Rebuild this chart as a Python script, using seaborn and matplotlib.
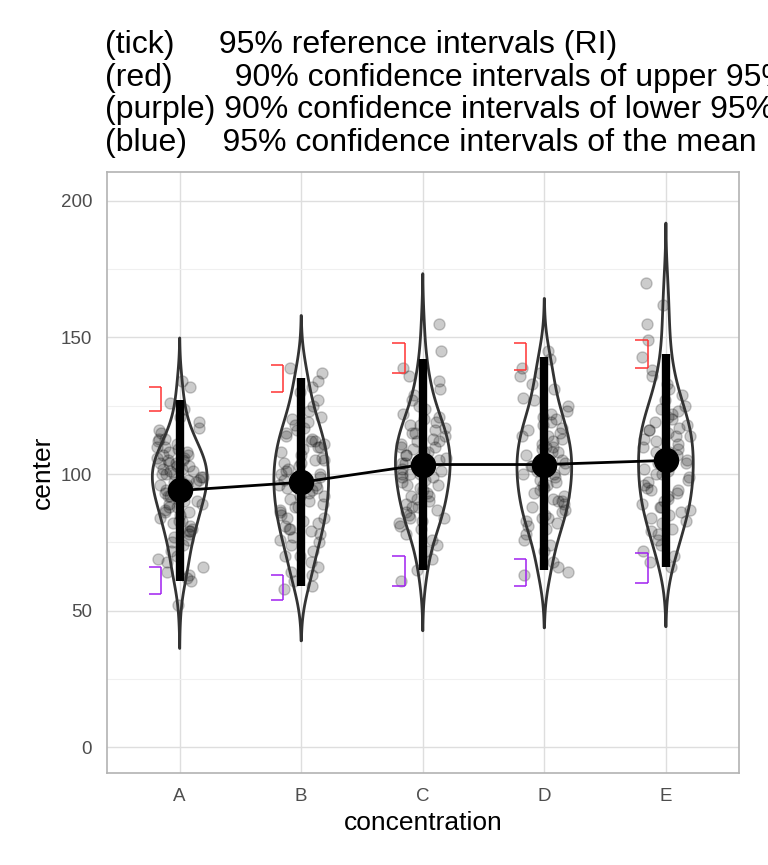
"""Violin + jitter chart of center by concentration with reference-interval markers."""

import matplotlib
matplotlib.use("Agg")
import matplotlib.pyplot as plt
import numpy as np
import pandas as pd
import seaborn as sns
from matplotlib.ticker import MultipleLocator

# === data ===
CATEGORIES = ["A", "B", "C", "D", "E"]

vals_a = [134, 132, 126, 121, 119, 117, 115, 113, 112, 111, 110, 109, 108, 108,
          107, 106, 106, 105, 105, 104, 104, 103, 103, 102, 102, 101, 101, 100,
          100, 99, 99, 98, 98, 97, 97, 96, 96, 95, 95, 94, 94, 93, 92, 92, 91,
          90, 90, 89, 88, 88, 87, 86, 85, 84, 83, 82, 81, 80, 79, 78, 77, 76, 75,
          74, 72, 70, 69, 68, 66, 64, 63, 62, 61, 52, 124, 116, 113, 110, 107,
          104, 100, 97, 93, 89, 86, 83, 79]
vals_b = [139, 137, 134, 132, 130, 127, 125, 123, 121, 119, 118, 117, 115, 114,
          113, 112, 111, 110, 109, 108, 107, 106, 105, 104, 103, 102, 101, 100,
          99, 98, 98, 97, 96, 95, 94, 93, 92, 91, 90, 89, 88, 87, 86, 85, 84, 83,
          82, 81, 80, 79, 78, 77, 76, 75, 74, 72, 70, 68, 66, 63, 61, 59, 58, 120,
          116, 110, 104, 100, 96, 92, 88, 84, 80, 95, 105, 112, 70, 64]
vals_c = [155, 145, 139, 136, 134, 131, 129, 127, 125, 124, 122, 121, 120, 119,
          118, 117, 116, 115, 114, 113, 112, 111, 110, 110, 109, 108, 107, 106,
          106, 105, 104, 103, 102, 101, 100, 100, 99, 98, 97, 96, 95, 94, 93, 92,
          91, 90, 89, 88, 87, 86, 85, 84, 83, 82, 81, 80, 78, 76, 74, 72, 69, 65,
          61, 118, 112, 108, 104, 100, 96, 92, 88, 84, 115, 107, 99]
vals_d = [145, 142, 139, 137, 136, 133, 131, 128, 127, 125, 123, 121, 120, 119,
          118, 117, 116, 115, 114, 113, 112, 111, 110, 109, 108, 107, 106, 105,
          104, 103, 103, 102, 101, 100, 99, 98, 97, 96, 95, 94, 93, 92, 91, 90,
          89, 88, 87, 86, 85, 84, 83, 82, 81, 80, 78, 76, 74, 72, 68, 66, 64, 63,
          122, 114, 108, 102, 96, 90, 84, 110, 100]
vals_e = [170, 162, 155, 149, 143, 138, 136, 133, 131, 129, 127, 125, 124, 123,
          121, 120, 119, 118, 117, 116, 115, 114, 113, 112, 111, 110, 109, 108,
          107, 106, 105, 104, 103, 102, 101, 100, 99, 98, 97, 96, 95, 94, 93, 92,
          91, 90, 89, 88, 87, 86, 85, 84, 83, 82, 80, 79, 78, 76, 74, 72, 70, 68,
          66, 122, 114, 108, 100, 94, 88, 116, 104]

means = [94, 97, 103.5, 103.5, 105]
ri_lo = [61, 59, 65, 65, 66]
ri_hi = [127, 135, 142, 143, 144]
upper_ci_lo = [123, 130, 137, 138, 139]
upper_ci_hi = [132, 140, 148, 148, 149]
lower_ci_lo = [56, 54, 59, 59, 60]
lower_ci_hi = [66, 63, 70, 69, 71]

TITLE_LINES = [
    "(tick)     95% reference intervals (RI)",
    "(red)       90% confidence intervals of upper 95% RI",
    "(purple) 90% confidence intervals of lower 95% RI",
    "(blue)    95% confidence intervals of the mean",
]

# === theme (close to ggplot theme_light) ===
sns.set_theme(style="whitegrid")
plt.rcParams["font.family"] = ["Liberation Sans", "DejaVu Sans"]

df = pd.concat(
    [pd.DataFrame({"concentration": c, "center": v})
     for c, v in zip(CATEGORIES, [vals_a, vals_b, vals_c, vals_d, vals_e])],
    ignore_index=True,
)

fig = plt.figure(figsize=(7.68, 8.65), dpi=100)
ax = fig.add_axes([0.139, 0.106, 0.823, 0.695])

np.random.seed(3)
sns.stripplot(data=df, x="concentration", y="center", order=CATEGORIES,
              jitter=0.2, color="black", alpha=0.2, size=8, linewidth=1,
              edgecolor="black", ax=ax, zorder=2)
sns.violinplot(data=df, x="concentration", y="center", order=CATEGORIES,
               fill=False, color="#333333", linewidth=2, inner=None, cut=2.3,
               density_norm="width", width=0.45, ax=ax, zorder=3)

pos = np.arange(len(CATEGORIES))
ax.vlines(pos, ri_lo, ri_hi, color="black", linewidth=6, zorder=4)

# brackets "]" left of each violin
for lo, hi, col in [(upper_ci_lo, upper_ci_hi, "#ff3333"),
                    (lower_ci_lo, lower_ci_hi, "#a020f0")]:
    ax.vlines(pos - 0.15, lo, hi, color=col, linewidth=1.1, zorder=4)
    ax.hlines(lo, pos - 0.25, pos - 0.15, color=col, linewidth=1.1, zorder=4)
    ax.hlines(hi, pos - 0.25, pos - 0.15, color=col, linewidth=1.1, zorder=4)

ax.plot(pos, means, color="black", linewidth=2, zorder=5)
ax.scatter(pos, means, s=300, color="black", zorder=6)

ax.set_xlim(-0.6, 4.6)
ax.set_ylim(-9.5, 210.5)
ax.yaxis.set_major_locator(MultipleLocator(50))
ax.yaxis.set_minor_locator(MultipleLocator(25))
ax.grid(which="major", color="#dedede", linewidth=1.0)
ax.grid(which="minor", axis="y", color="#f0f0f0", linewidth=0.8)
ax.set_axisbelow(True)
for s in ax.spines.values():
    s.set_color("#b3b3b3")
    s.set_linewidth(1.2)
ax.tick_params(axis="both", which="major", length=4.5, width=1, color="#b3b3b3",
               labelcolor="#4d4d4d", labelsize=13.5, pad=6)
ax.tick_params(axis="y", which="minor", length=0)
ax.set_xlabel("concentration", fontsize=19, color="black")
ax.set_ylabel("center", fontsize=19, color="black")
ax.xaxis.set_label_coords(0.5, -0.062)
ax.yaxis.set_label_coords(-0.082, 0.5)

# four-line title, one baseline per line (runs past the right edge, as in the original)
for i, line in enumerate(TITLE_LINES):
    fig.text(105 / 768, 1 - (53 + 32.7 * i) / 865, line, ha="left",
             va="baseline", fontsize=23, color="black")

fig.savefig("out.png", dpi=100)
